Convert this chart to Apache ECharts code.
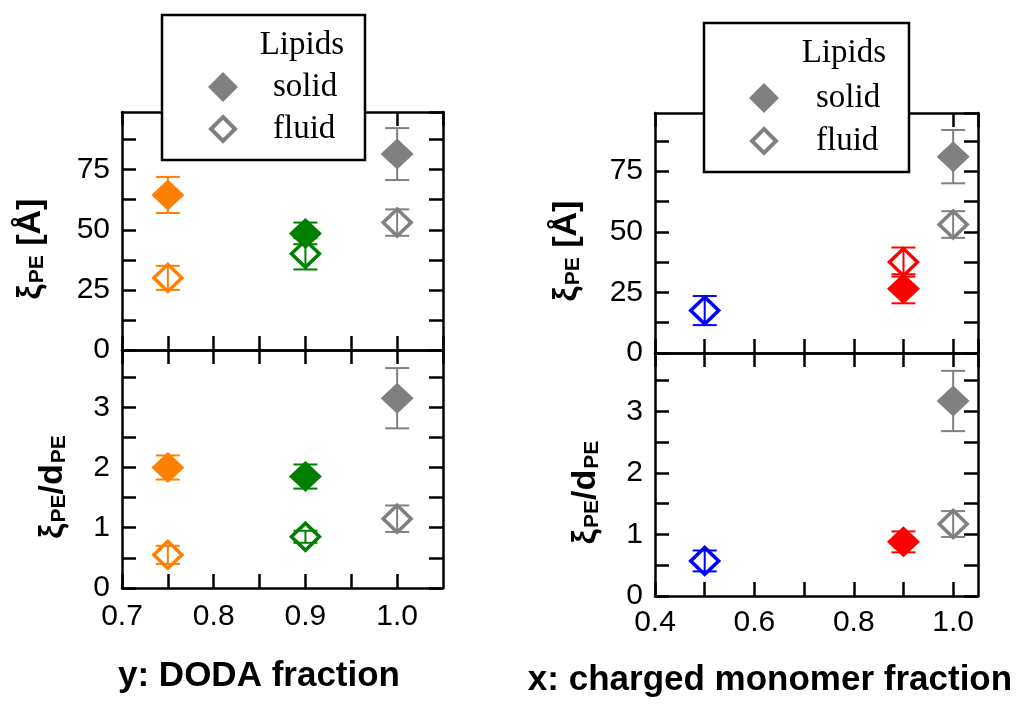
<!DOCTYPE html>
<html>
<head>
<meta charset="utf-8">
<script src="https://cdn.jsdelivr.net/npm/echarts@6/dist/echarts.min.js"></script>
<style>html,body{margin:0;padding:0;background:#fff;}#c{width:1024px;height:716px;}</style>
</head>
<body>
<div id="c"></div>
<script>
// ---- Data (left: y = DODA fraction) ----
const DODA_X = [0.75, 0.9, 1.0];
const DODA_XI_SOLID = [64.5, 48.5, 81.5];
const DODA_XI_SOLID_ERR = [7.5, 4.5, 10.8];
const DODA_XI_FLUID = [30, 40, 53];
const DODA_XI_FLUID_ERR = [5, 6.5, 5.5];
const DODA_RATIO_SOLID = [2.0, 1.85, 3.15];
const DODA_RATIO_SOLID_ERR = [0.2, 0.2, 0.5];
const DODA_RATIO_FLUID = [0.55, 0.85, 1.15];
const DODA_RATIO_FLUID_ERR = [0.15, 0.1, 0.22];

// ---- Data (right: x = charged monomer fraction) ----
const CHG_XI_SOLID_X = [0.9, 1.0];
const CHG_XI_SOLID = [26.5, 81];
const CHG_XI_SOLID_ERR = [6, 11];
const CHG_XI_FLUID_X = [0.5, 0.9, 1.0];
const CHG_XI_FLUID = [17.5, 37.5, 53];
const CHG_XI_FLUID_ERR = [6, 6, 5.5];
const CHG_RATIO_SOLID_X = [0.9, 1.0];
const CHG_RATIO_SOLID = [0.88, 3.17];
const CHG_RATIO_SOLID_ERR = [0.17, 0.49];
const CHG_RATIO_FLUID_X = [0.5, 1.0];
const CHG_RATIO_FLUID = [0.57, 1.17];
const CHG_RATIO_FLUID_ERR = [0.17, 0.21];

// tick labels
const XI_TICKS = [0, 25, 50, 75];
const RATIO_TICKS = [0, 1, 2, 3];
const DODA_TICKS = ['0.7', '0.8', '0.9', '1.0'];
const CHG_TICKS = ['0.4', '0.6', '0.8', '1.0'];

// ---- Styles ----
const DODA_COLORS = {0.75: '#ff7f00', 0.9: '#008000', 1: '#808080'};
const CHG_COLORS = {0.5: '#0000ff', 0.9: '#ff0000', 1: '#808080'};

const chart = echarts.init(document.getElementById('c'));

const grids = [
  {left: 122, top: 112, width: 321, height: 238},
  {left: 122, top: 350, width: 321, height: 238},
  {left: 655, top: 113, width: 323, height: 240},
  {left: 655, top: 353, width: 323, height: 243}
];

const lineStyle = {color: '#000', width: 2.5};
const tickStyle = {show: true, inside: true, length: 14, lineStyle: {color: '#000', width: 2.5}};
const labelFont = {color: '#000', fontSize: 30, fontFamily: 'Liberation Sans'};

function xAxisPair(g, min, max, interval, labels, showLabels, margin) {
  const base = {type: 'value', gridIndex: g, min: min, max: max, interval: interval,
    axisLine: {show: true, onZero: false, lineStyle: lineStyle},
    axisTick: tickStyle, splitLine: {show: false}};
  return [
    Object.assign({}, base, {position: 'bottom', axisLabel: Object.assign({}, labelFont, {
      show: showLabels, margin: margin, showMaxLabel: false,
      formatter: function (v) {
        const s = v.toFixed(1);
        return (labels.indexOf(s) >= 0 && Math.abs(v - parseFloat(s)) < 1e-6) ? s : '';
      }})}),
    Object.assign({}, base, {position: 'top', axisLabel: {show: false}})
  ];
}
function yAxisPair(g, max, interval, labels, name, nameGap, rich) {
  const base = {type: 'value', gridIndex: g, min: 0, max: max, interval: interval,
    axisLine: {show: true, onZero: false, lineStyle: lineStyle},
    axisTick: tickStyle, splitLine: {show: false}};
  return [
    Object.assign({}, base, {position: 'left', name: name, nameLocation: 'middle', nameGap: nameGap,
      nameRotate: 90,
      nameTextStyle: {fontSize: 34, fontWeight: 'bold', fontFamily: 'Liberation Sans', color: '#000',
        padding: [0, 36, 0, 0], rich: rich},
      axisLabel: Object.assign({}, labelFont, {margin: 12, showMaxLabel: false,
        formatter: function (v) {
          for (const t of labels) if (Math.abs(v - t) < 1e-6) return String(t);
          return '';
        }})}),
    Object.assign({}, base, {position: 'right', axisLabel: {show: false}})
  ];
}

const rich = {
  x: {fontSize: 34, fontWeight: 'bold', fontFamily: 'Liberation Sans', color: '#000', verticalAlign: 'bottom'},
  s: {fontSize: 21, fontWeight: 'bold', fontFamily: 'Liberation Sans', color: '#000', verticalAlign: 'bottom', padding: [0, 0, 0, 1]}
};
const XI_NAME = '{x|ξ}{s|PE}{x| [Å]}';
const RATIO_NAME = '{x|ξ}{s|PE}{x|/d}{s|PE}';

const xAxes = [].concat(
  xAxisPair(0, 0.7, 1.05, 0.05, DODA_TICKS, false, 14),
  xAxisPair(1, 0.7, 1.05, 0.05, DODA_TICKS, true, 14),
  xAxisPair(2, 0.4, 1.05, 0.1, CHG_TICKS, false, 12),
  xAxisPair(3, 0.4, 1.05, 0.1, CHG_TICKS, true, 12)
);
const yAxes = [].concat(
  yAxisPair(0, 99, 12.5, XI_TICKS, XI_NAME, 74, rich),
  yAxisPair(1, 3.95, 0.5, RATIO_TICKS, RATIO_NAME, 52, rich),
  yAxisPair(2, 99, 12.5, XI_TICKS, XI_NAME, 71, rich),
  yAxisPair(3, 3.95, 0.5, RATIO_TICKS, RATIO_NAME, 52, rich)
);

const series = [];
function addSet(g, xs, ys, errs, colors, solid) {
  const cols = xs.map(x => colors[x]);
  series.push({
    type: 'custom', xAxisIndex: 2 * g, yAxisIndex: 2 * g, z: 2,
    data: xs.map((x, i) => [x, ys[i] - errs[i], ys[i] + errs[i]]),
    renderItem: function (params, api) {
      const x = api.value(0);
      const lo = api.coord([x, api.value(1)]);
      const hi = api.coord([x, api.value(2)]);
      const c = cols[params.dataIndex];
      const w = 12;
      const st = {stroke: c, lineWidth: 2};
      return {type: 'group', children: [
        {type: 'line', shape: {x1: lo[0], y1: lo[1], x2: hi[0], y2: hi[1]}, style: st},
        {type: 'line', shape: {x1: lo[0] - w, y1: lo[1], x2: lo[0] + w, y2: lo[1]}, style: st},
        {type: 'line', shape: {x1: hi[0] - w, y1: hi[1], x2: hi[0] + w, y2: hi[1]}, style: st}
      ]};
    }
  });
  series.push({
    type: 'scatter', xAxisIndex: 2 * g, yAxisIndex: 2 * g, z: 3,
    symbol: 'diamond',
    symbolSize: solid ? [33, 31] : [28, 27],
    data: xs.map((x, i) => ({value: [x, ys[i]],
      itemStyle: solid ? {color: cols[i], borderWidth: 0, opacity: 1}
                       : {color: 'rgba(0,0,0,0)', borderColor: cols[i], borderWidth: 3.5, opacity: 1}})),
    emphasis: {disabled: true}
  });
}
addSet(0, DODA_X, DODA_XI_FLUID, DODA_XI_FLUID_ERR, DODA_COLORS, false);
addSet(0, DODA_X, DODA_XI_SOLID, DODA_XI_SOLID_ERR, DODA_COLORS, true);
addSet(1, DODA_X, DODA_RATIO_FLUID, DODA_RATIO_FLUID_ERR, DODA_COLORS, false);
addSet(1, DODA_X, DODA_RATIO_SOLID, DODA_RATIO_SOLID_ERR, DODA_COLORS, true);
addSet(2, CHG_XI_FLUID_X, CHG_XI_FLUID, CHG_XI_FLUID_ERR, CHG_COLORS, false);
addSet(2, CHG_XI_SOLID_X, CHG_XI_SOLID, CHG_XI_SOLID_ERR, CHG_COLORS, true);
addSet(3, CHG_RATIO_FLUID_X, CHG_RATIO_FLUID, CHG_RATIO_FLUID_ERR, CHG_COLORS, false);
addSet(3, CHG_RATIO_SOLID_X, CHG_RATIO_SOLID, CHG_RATIO_SOLID_ERR, CHG_COLORS, true);

function legendBox(x, y, w, h, dx, textLeft, lipRight, yL, yS, yF) {
  return [
    {type: 'rect', z: 100, shape: {x: x, y: y, width: w, height: h},
      style: {fill: '#fff', stroke: '#000', lineWidth: 2.5}},
    {type: 'text', z: 101, style: {x: lipRight, y: yL, text: 'Lipids', fill: '#000',
      font: '33px "Liberation Serif"', align: 'right', verticalAlign: 'middle'}},
    {type: 'polygon', z: 101, shape: {points: [[dx, yS - 15], [dx + 15, yS], [dx, yS + 15], [dx - 15, yS]]},
      style: {fill: '#808080'}},
    {type: 'text', z: 101, style: {x: textLeft, y: yS, text: 'solid', fill: '#000',
      font: '33px "Liberation Serif"', align: 'left', verticalAlign: 'middle'}},
    {type: 'polygon', z: 101, shape: {points: [[dx, yF - 12], [dx + 12, yF], [dx, yF + 12], [dx - 12, yF]]},
      style: {fill: 'none', stroke: '#808080', lineWidth: 4}},
    {type: 'text', z: 101, style: {x: textLeft, y: yF, text: 'fluid', fill: '#000',
      font: '33px "Liberation Serif"', align: 'left', verticalAlign: 'middle'}}
  ];
}

const graphic = [].concat(
  legendBox(162, 15, 203, 145, 223, 273, 344, 45, 87, 129),
  legendBox(704, 23, 205, 149, 764, 816, 886, 53, 98, 141),
  [
    {type: 'text', z: 101, style: {x: 259, y: 676, text: 'y: DODA fraction', fill: '#000',
      font: 'bold 35px "Liberation Sans"', align: 'center', verticalAlign: 'middle'}},
    {type: 'text', z: 101, style: {x: 770, y: 680, text: 'x: charged monomer fraction', fill: '#000',
      font: 'bold 35px "Liberation Sans"', align: 'center', verticalAlign: 'middle'}}
  ]
);

chart.setOption({
  animation: false,
  backgroundColor: '#fff',
  grid: grids,
  xAxis: xAxes,
  yAxis: yAxes,
  series: series,
  graphic: graphic
});
</script>
</body>
</html>
